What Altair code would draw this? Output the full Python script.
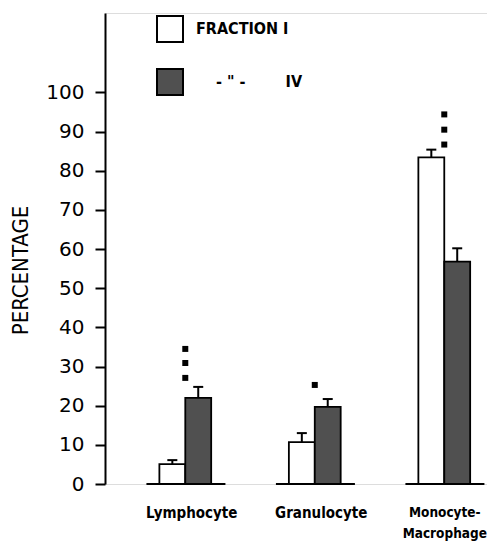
import altair as alt
import pandas as pd

# ---- data ----
categories = ["Lymphocyte", "Granulocyte", "Monocyte-Macrophage"]
fractions = ["FRACTION I", "IV"]
frac1_values = [5.1, 10.7, 83.4]
frac1_errors = [1.0, 2.3, 2.0]
frac4_values = [22.0, 19.7, 56.8]
frac4_errors = [2.8, 2.0, 3.4]
star_values = [[27.1, 30.9, 34.5], [25.3], [86.7, 90.5, 94.4]]
y_ticks = [0, 10, 20, 30, 40, 50, 60, 70, 80, 90, 100]

BAR_W = 0.2
rows = []
for i, cat in enumerate(categories):
    pos = i + 1
    for j, (vals, errs) in enumerate([(frac1_values, frac1_errors), (frac4_values, frac4_errors)]):
        x0 = pos - BAR_W + j * BAR_W
        rows.append(dict(category=cat, fraction=fractions[j], x0=x0, x1=x0 + BAR_W,
                         xm=x0 + BAR_W / 2, value=vals[i], base=0, top=vals[i] + errs[i]))
bars_df = pd.DataFrame(rows)

base_df = pd.DataFrame({
    "category": categories,
    "left": [i + 1 - 0.3 for i in range(len(categories))],
    "right": [i + 1 + 0.31 for i in range(len(categories))],
    "zero": [0] * len(categories),
})

star_rows = []
for i, sv in enumerate(star_values):
    for v in sv:
        star_rows.append(dict(pos=i + 1, value=v))
stars_df = pd.DataFrame(star_rows)

# label expression for the x axis (multi-line for the hyphenated name)
parts = []
multi_pos = []
for i, cat in enumerate(categories):
    if "-" in cat:
        a, b = cat.split("-", 1)
        lab = "['%s-', '%s']" % (a, b)
        multi_pos.append(i + 1)
    else:
        lab = "'%s'" % cat
    parts.append("datum.value == %d ? %s : " % (i + 1, lab))
label_expr = "".join(parts) + "''"
multi_test = " || ".join("datum.value == %d" % p for p in multi_pos)

xscale = alt.Scale(domain=[0.38, 3.33], nice=False, zero=False)
yscale = alt.Scale(domain=[0, 120.3], nice=False)

NB = "\u00a0"
legend_expr = ("datum.label == 'IV' ? '\u200b%s- \" -%sIV' : datum.label" % (NB * 4, NB * 8))

bars = alt.Chart(bars_df).mark_bar(stroke="black", strokeWidth=1.8).encode(
    x=alt.X("x0:Q", scale=xscale, axis=alt.Axis(
        values=[i + 1 for i in range(len(categories))], labelExpr=label_expr,
        domain=False, ticks=False, grid=False, title=None,
        labelFont="DejaVu Sans Condensed", labelFontWeight="bold",
        labelFontSize={"condition": {"test": multi_test, "value": 13.5}, "value": 15},
        labelOffset={"condition": {"test": multi_test, "value": 0}, "value": 6},
        labelColor="black", labelPadding=21, labelLineHeight=21,
        labelBaseline="top", labelFlush=False)),
    x2="x1:Q",
    y=alt.Y("value:Q", scale=yscale, axis=alt.Axis(
        values=y_ticks, grid=False, title="PERCENTAGE",
        domainColor="black", domainWidth=2, tickColor="black", tickWidth=2, tickSize=10,
        labelFont="DejaVu Sans", labelFontSize=20, labelColor="black", labelPadding=11,
        titleFont="DejaVu Sans Condensed", titleFontSize=22, titleFontWeight="normal",
        titleColor="black", titleAngle=270, titleX=-85, titleY=257,
        titleAlign="center", titleBaseline="middle")),
    y2="base:Q",
    fill=alt.Fill("fraction:N", scale=alt.Scale(domain=fractions, range=["white", "#505050"]),
                  legend=alt.Legend(
                      orient="none", legendX=51, legendY=2, title=None,
                      symbolType="square", symbolSize=676, symbolStrokeColor="black",
                      symbolStrokeWidth=2, symbolOpacity=1, rowPadding=19, labelOffset=12,
                      labelFont="DejaVu Sans Condensed", labelFontWeight="bold",
                      labelFontSize=16, labelColor="black", labelLimit=300,
                      labelExpr=legend_expr, padding=0)),
)

baselines = alt.Chart(base_df).mark_rule(color="black", strokeWidth=2).encode(
    x="left:Q", x2="right:Q", y="zero:Q")

err_rules = alt.Chart(bars_df).mark_rule(color="black", strokeWidth=2).encode(
    x="xm:Q", y="value:Q", y2="top:Q")

err_caps = alt.Chart(bars_df).mark_tick(color="black", orient="horizontal", size=10,
                                         thickness=2, opacity=1).encode(
    x="xm:Q", y="top:Q")

stars = alt.Chart(stars_df).mark_square(color="black", size=36, opacity=1, filled=True).encode(
    x="pos:Q", y="value:Q")

chart = alt.layer(bars, baselines, err_rules, err_caps, stars).properties(
    width=382, height=471,
    autosize=alt.AutoSizeParams(type="none"),
    padding={"left": 97, "top": 5, "right": 0, "bottom": 58},
).configure_view(stroke=None).configure(background="white")

chart.save("out.html", embed_options={"renderer": "svg", "actions": False})
